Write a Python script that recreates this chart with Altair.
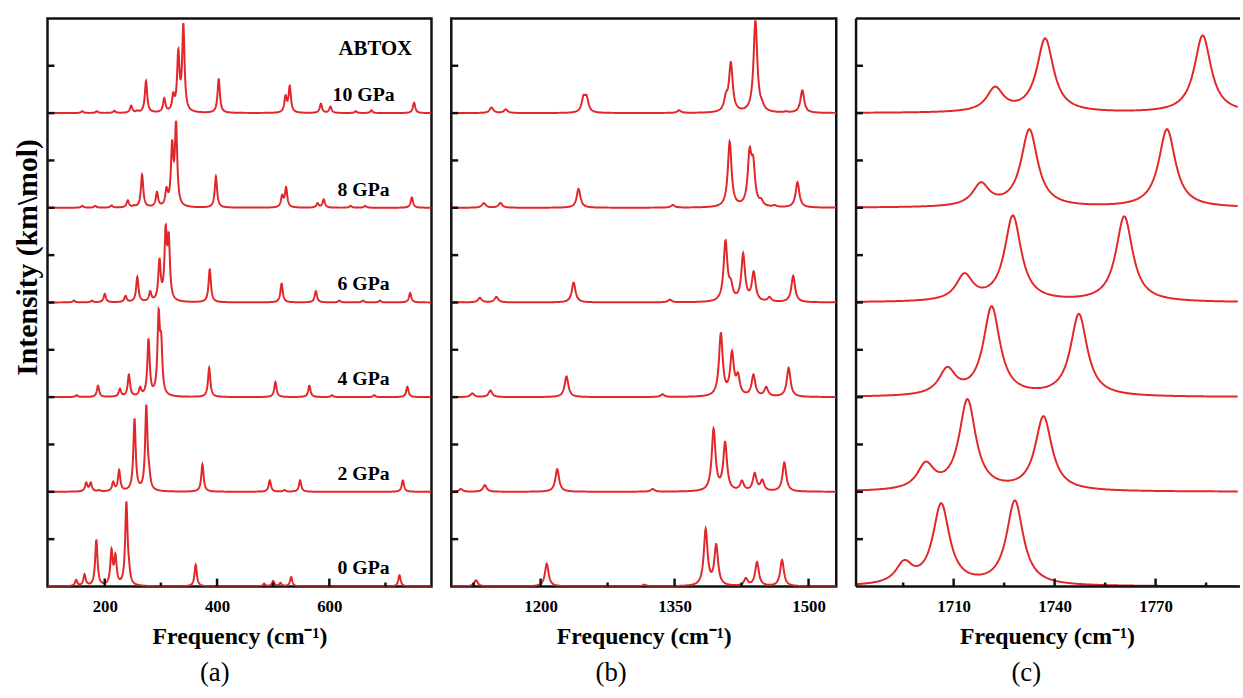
import numpy as np
import pandas as pd
import altair as alt

PRESSURES = ["0 GPa", "2 GPa", "4 GPa", "6 GPa", "8 GPa", "10 GPa"]

# ---- Panel (a): (peak centre cm-1, apparent peak height in offset units)
A_0 = [(149, .07), (164, .13), (185, .49), (212, .40), (219, .35), (238.5, .90), (243, .30),
       (362, .23), (484, .03), (500, .06), (513, .04), (532, .10), (725, .12)]
A_2 = [(167, .10), (175, .10), (190, .02), (215, .11), (225.6, .23), (253, .77), (274, .92),
       (279, .30), (374, .29), (494, .12), (520, .02), (548, .12), (731, .12)]
A_4 = [(150, .02), (188, .12), (227, .09), (243, .24), (263, .11), (278, .62), (296, .93),
       (300.5, .68), (386, .31), (504, .16), (564.5, .12), (605, .02), (680, .02), (739, .11)]
A_6 = [(145, .02), (177, .02), (200, .09), (237, .07), (258, .27), (281, .12), (297.5, .47),
       (308.5, .82), (314, .74), (387, .35), (515, .20), (576, .12), (618, .02), (660, .02),
       (690, .02), (744, .10)]
A_8 = [(160, .02), (183, .02), (212, .025), (241, .08), (252, .03), (266.5, .35), (293, .17),
       (310, .22), (320, .72), (327, .92), (398, .33), (516, .14), (523, .22), (579, .05),
       (590, .09), (638, .02), (664, .02), (747, .11)]
A_10 = [(160, .02), (186, .02), (217, .025), (247, .08), (258, .03), (273.5, .34), (306, .16),
        (322, .22), (331, .68), (340, .95), (403, .36), (522, .19), (529.5, .29), (585, .10),
        (602, .07), (647, .02), (675, .03), (751, .11)]

# ---- Panel (b)
B_0 = [(1127.6, .066), (1206.9, .24), (1316.3, .02), (1384.8, .61), (1396.6, .45),
       (1429.8, .09), (1442.3, .26), (1470.3, .28)]
B_2 = [(1110.7, .03), (1137.6, .07), (1218.6, .24), (1325.5, .03), (1393.7, .67),
       (1406.6, .53), (1425.4, .12), (1439.7, .20), (1448.2, .13), (1472.9, .31)]
B_4 = [(1123.6, .04), (1143.8, .07), (1229, .22), (1336.5, .03), (1401.8, .68), (1414.3, .49),
       (1421, .26), (1438.3, .24), (1452.6, .11), (1477.7, .31)]
B_6 = [(1132, .05), (1150.5, .06), (1237, .21), (1344.7, .03), (1407, .66), (1413, .25),
       (1426.8, .52), (1438.6, .33), (1456.3, .06), (1482.8, .28)]
B_8 = [(1136.5, .05), (1155, .05), (1242.5, .20), (1348, .03), (1411.7, .70), (1434, .64),
       (1438, .55), (1447, .10), (1462, .03), (1487.6, .27)]
B_10 = [(1145, .06), (1161, .04), (1248, .19), (1251.5, .19), (1355, .03), (1407.5, .22),
        (1413, .54), (1440.5, .98), (1448, .14), (1475, .02), (1493, .24)]

# ---- Panel (c)
C_0 = [(1695.3, .28), (1706.3, .88), (1728.2, .91)]
C_2 = [(1701.7, .32), (1714.1, .98), (1736.7, .80)]
C_4 = [(1708.1, .32), (1721.3, .96), (1747.2, .88)]
C_6 = [(1713.2, .31), (1727.6, .92), (1760.7, .91)]
C_8 = [(1718.1, .27), (1732.5, .83), (1773.4, .83)]
C_10 = [(1722.3, .28), (1737.2, .79), (1784.0, .82)]

LABEL_FREQ = 661
LABEL_RISE = 0.19
SAMPLE_NAME = "ABTOX"
SAMPLE_POS = (682, 5.68)

RED = "#E1272A"
FRAME = "#111111"
SERIF = "Liberation Serif"
H = 574
Y_TICKS = [0.5, 1, 1.5, 2, 2.5, 3, 3.5, 4, 4.5, 5, 5.5]


def lor(x, x0, g):
    return g * g / ((x - x0) ** 2 + g * g)


def spectrum(peaks, grid, gamma):
    pos = np.array([p for p, _ in peaks], dtype=float)
    hgt = np.array([q for _, q in peaks], dtype=float)
    m = lor(pos[:, None], pos[None, :], gamma)
    amp = np.clip(np.linalg.solve(m, hgt), 0, None)
    return (amp[None, :] * lor(grid[:, None], pos[None, :], gamma)).sum(axis=1)


def panel(peaks_list, domain, width, gamma, step, major, minor, caption, cap_dx,
          first=False, box=True):
    grid = np.arange(domain[0], domain[1] + step / 2, step)
    frames = []
    for k, (p, peaks) in enumerate(zip(PRESSURES, peaks_list)):
        yv = k + spectrum(peaks, grid, gamma)
        frames.append(pd.DataFrame({"freq": np.round(grid, 2), "y": np.round(yv, 4), "pressure": p}))
    df = pd.concat(frames, ignore_index=True)

    xsc = alt.Scale(domain=list(domain), nice=False, zero=False)
    ysc = alt.Scale(domain=[0, 6], nice=False, zero=False)

    xaxis = alt.Axis(values=major, ticks=False, domain=False, grid=False, format="d",
                     labelFont=SERIF, labelFontSize=17, labelFontWeight="bold",
                     labelColor="black", labelBaseline="alphabetic", labelPadding=25,
                     labelFlush=False, title="Frequency (cm⁻¹)", titleFont=SERIF,
                     titleFontSize=24, titleFontWeight="bold", titleColor="black",
                     titleY=58, titleBaseline="alphabetic")
    if first:
        yaxis = alt.Axis(
            labels=False, ticks=False, domain=False, grid=False,
            title="Intensity (km\\mol)", titleFont=SERIF, titleFontSize=30,
            titleFontWeight="bold", titleColor="black", titleX=-20, titleY=241,
            titleAngle=270, titleAlign="center", titleBaseline="middle")
    else:
        yaxis = None

    def X():
        return alt.X("freq:Q", scale=xsc, axis=xaxis)

    def Y():
        return alt.Y("y:Q", scale=ysc, axis=yaxis)

    line = alt.Chart(df).mark_line(color=RED, strokeWidth=2, clip=True).encode(
        x=X(), y=Y(), detail="pressure:N")

    ytick = alt.Chart(pd.DataFrame({"y": Y_TICKS})).mark_rule(
        color=FRAME, strokeWidth=2.5).encode(y=Y(), x=alt.value(0), x2=alt.value(7))
    xmaj = alt.Chart(pd.DataFrame({"freq": major})).mark_rule(
        color=FRAME, strokeWidth=2.5).encode(x=X(), y=alt.value(H), y2=alt.value(H - 8))
    xmin = alt.Chart(pd.DataFrame({"freq": minor})).mark_rule(
        color=FRAME, strokeWidth=2.5).encode(x=X(), y=alt.value(H), y2=alt.value(H - 4))

    layers = [line, ytick, xmaj, xmin]

    if first:
        lab = pd.DataFrame({"freq": [LABEL_FREQ] * 6,
                            "y": [k + LABEL_RISE for k in range(6)],
                            "label": PRESSURES})
        layers.append(alt.Chart(lab).mark_text(
            font=SERIF, fontSize=20, fontWeight="bold", color="black",
            align="center", baseline="middle").encode(x=X(), y=Y(), text="label:N"))
        nm = pd.DataFrame({"freq": [SAMPLE_POS[0]], "y": [SAMPLE_POS[1]], "label": [SAMPLE_NAME]})
        layers.append(alt.Chart(nm).mark_text(
            font=SERIF, fontSize=21, fontWeight="bold", color="black",
            align="center", baseline="middle").encode(x=X(), y=Y(), text="label:N"))

    props = dict(width=width, height=H,
                 title=alt.TitleParams(text=caption, orient="bottom", anchor="middle",
                                       frame="group", font=SERIF, fontSize=27,
                                       fontWeight="normal", color="black", offset=12,
                                       dx=cap_dx))
    if not box:
        one = pd.DataFrame({"k": [0]})
        top = alt.Chart(one).mark_rule(color=FRAME, strokeWidth=2.5).encode(
            x=alt.value(0), x2=alt.value(width + 2), y=alt.value(0))
        left = alt.Chart(one).mark_rule(color=FRAME, strokeWidth=2.5).encode(
            x=alt.value(0), y=alt.value(0), y2=alt.value(H))
        bottom = alt.Chart(one).mark_rule(color=FRAME, strokeWidth=2.5).encode(
            x=alt.value(0), x2=alt.value(width + 2), y=alt.value(H))
        layers += [top, left, bottom]
        props["view"] = alt.ViewBackground(stroke="transparent")

    return alt.layer(*layers).properties(**props)


pa = panel([A_0, A_2, A_4, A_6, A_8, A_10], (98, 782), 388, 2.5, 0.4,
           [200, 400, 600], [300, 500, 700], "(a)", -25, first=True)
pb = panel([B_0, B_2, B_4, B_6, B_8, B_10], (1100, 1531), 389, 2.5, 0.4,
           [1200, 1350, 1500], [1125, 1275, 1425], "(b)", -33)
pc = panel([C_0, C_2, C_4, C_6, C_8, C_10], (1681, 1794.5), 386, 3.0, 0.2,
           [1710, 1740, 1770], [1695, 1725, 1755, 1785], "(c)", -21, box=False)

chart = alt.hconcat(pa, pb, pc, spacing=15).properties(
    padding={"left": 11, "top": 12, "right": 0, "bottom": 0},
    background="white",
).configure_view(stroke=FRAME, strokeWidth=2.5)

chart.save("out.html", embed_options={"renderer": "svg", "actions": False})
